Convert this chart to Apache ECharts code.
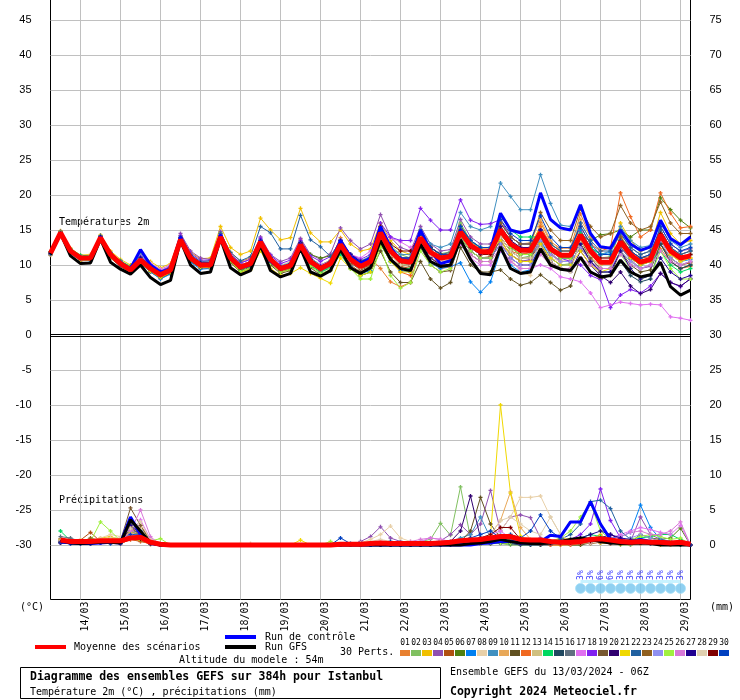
<!DOCTYPE html>
<html><head><meta charset="utf-8">
<script src="https://cdn.jsdelivr.net/npm/echarts@6/dist/echarts.min.js"></script>
<style>html,body{margin:0;padding:0;background:#fff}#c{width:740px;height:700px}</style>
</head><body><div id="c"></div>
<script>
// ---------- data ----------
const HOURS = [0,6,12,18,24,30,36,42,48,54,60,66,72,78,84,90,96,102,108,114,120,126,132,138,144,150,156,162,168,174,180,186,192,198,204,210,216,222,228,234,240,246,252,258,264,270,276,282,288,294,300,306,312,318,324,330,336,342,348,354,360,366,372,378,384];
const DATE_LABELS = ['14/03','15/03','16/03','17/03','18/03','19/03','20/03','21/03','22/03','23/03','24/03','25/03','26/03','27/03','28/03','29/03'];
const PERT_NAMES = ['01','02','03','04','05','06','07','08','09','10','11','12','13','14','15','16','17','18','19','20','21','22','23','24','25','26','27','28','29','30'];
const PERT_COLORS = ['#e88030','#80c060','#f0c000','#9050b0','#b05010','#508010','#0080f0','#e8d0a8','#4090c0','#e8a858','#605020','#f06820','#d0c080','#00d860','#204860','#607080','#e070f0','#8020f0','#785830','#300070','#f0d800','#2060a0','#906020','#9090f0','#a0f040','#d878d8','#200090','#e0d0b0','#800000','#0040c0'];

// Temperature 2m (°C)
const tMean = [11.7, 14.6,12.0,11.0,11.0, 13.9,11.5,10.2,9.3, 10.7,9.5,8.6,9.3, 13.6,11.0,10.0,10.0, 14.0,11.0,9.7,10.2, 13.3,10.8,9.5,9.9, 12.9,10.5,9.5,10.2, 12.9,10.8,9.8,10.5, 14.6,12.0,10.6,10.4, 13.9,11.8,11.0,11.2, 14.7,12.8,11.9,11.9, 15.0,13.0,12.1,12.1, 14.6,12.3,11.4,11.4, 14.3,12.0,10.4,10.4, 13.3,11.5,10.4,10.8, 14.3,12.0,11.0,11.3];
const tCtrl = [11.6, 14.6,12.0,11.0,11.0, 14.0,11.5,10.0,9.5, 12.2,10.0,9.0,9.4, 14.0,11.0,10.0,10.0, 14.3,11.0,9.6,10.0, 13.5,10.5,9.5,10.0, 13.0,10.5,9.6,10.3, 13.5,11.2,10.2,11.0, 15.5,12.5,10.7,10.6, 15.0,12.0,10.2,10.6, 15.0,12.8,11.7,12.2, 17.4,15.0,14.6,15.0, 20.3,16.5,15.3,15.0, 18.6,14.5,12.6,12.4, 15.0,13.0,12.1,12.6, 16.4,13.8,12.9,14.0];
const tGfs = [11.5, 14.5,11.3,10.2,10.3, 13.7,10.4,9.4,8.7, 10.0,8.2,7.2,7.8, 13.5,10.0,8.8,9.0, 13.8,9.6,8.6,9.2, 12.8,9.2,8.3,8.8, 12.4,9.0,8.4,9.2, 12.2,9.6,8.8,9.6, 13.5,10.8,9.5,9.2, 13.0,10.5,9.8,10.0, 13.6,10.8,8.8,8.6, 12.6,9.5,8.8,9.0, 12.3,10.0,9.4,9.2, 11.1,9.0,8.3,8.5, 10.7,9.0,8.3,8.6, 10.4,6.9,5.7,6.4];
const t01 = [11.5, 14.8,12.3,11.3,11.3, 13.6,11.5,10.2,9.3, 11.2,9.7,8.8,9.5, 13.1,10.7,9.7,9.7, 14.5,11.8,10.5,11.0, 12.3,10.3,9.0,9.4, 13.7,11.0,10.0,10.7, 13.9,11.3,10.3,11.0, 9.5,7.6,6.9,7.5, 12.9,10.3,9.5,9.7, 15.7,13.3,12.4,12.4, 13.0,11.5,10.6,10.6, 16.1,13.3,12.4,12.4, 17.3,14.0,12.4,12.4, 14.3,11.5,10.4,10.8, 12.3,10.5,9.5,9.8];
const t02 = [11.8, 14.4,11.8,10.8,10.9, 14.2,11.8,10.5,9.6, 10.9,9.8,8.9,9.6, 13.9,11.3,10.4,10.5, 14.6,11.6,10.1,10.4, 13.0,10.6,9.3,9.6, 12.4,10.0,9.0,9.8, 13.4,11.5,10.6,11.2, 15.5,12.8,11.5,11.0, 14.8,12.5,11.6,11.9, 16.0,13.5,12.2,12.0, 14.0,12.0,11.0,11.3, 13.2,11.0,10.0,10.2, 15.0,12.5,11.0,11.2, 12.0,10.5,9.5,9.9, 13.0,11.0,10.0,10.5];
const t03 = [11.9, 14.9,12.4,11.4,11.5, 14.3,12.0,10.8,10.0, 11.8,10.5,9.6,10.2, 14.2,11.8,10.9,11.0, 15.5,12.5,11.5,12.0, 16.7,15.0,13.6,13.9, 18.1,14.6,13.3,13.3, 15.0,13.0,12.0,12.3, 16.0,13.5,12.0,11.5, 15.0,12.5,11.5,11.6, 15.5,13.0,12.0,12.0, 16.5,14.0,13.0,13.0, 15.5,12.5,11.2,11.0, 13.0,11.0,10.0,10.2, 16.0,13.5,12.0,12.5, 17.5,14.5,13.0,13.5];
const t04 = [11.6, 14.5,12.1,11.2,11.1, 13.8,11.4,10.3,9.5, 11.0,9.9,9.2,9.8, 14.5,12.0,11.0,10.8, 14.8,11.5,10.3,10.8, 14.0,11.5,10.5,11.0, 13.8,11.5,10.8,11.6, 15.3,13.5,12.3,13.0, 17.2,14.0,12.5,12.0, 15.5,13.0,12.0,12.2, 16.5,14.0,13.0,13.0, 13.5,11.5,10.5,10.8, 13.8,11.8,10.5,10.5, 14.8,12.5,11.0,11.0, 12.5,10.8,9.5,9.8, 15.5,13.0,12.0,12.3];
const t05 = [11.4, 14.3,11.7,10.6,10.7, 13.5,11.0,9.8,8.9, 10.3,9.0,8.1,8.8, 13.2,10.5,9.6,9.5, 13.6,10.5,9.2,9.7, 12.8,10.2,9.0,9.4, 12.5,10.0,9.0,9.6, 12.0,10.0,9.0,9.8, 13.5,11.0,9.8,9.5, 13.0,11.0,10.2,10.5, 14.0,12.0,11.0,11.2, 15.5,13.5,12.5,12.5, 14.0,11.5,10.5,10.5, 12.5,10.5,9.5,9.5, 14.0,12.0,11.0,11.2, 13.0,11.0,10.0,10.3];
const t06 = [11.7, 14.7,12.0,11.1,11.0, 14.0,11.6,10.3,9.4, 10.4,9.3,8.5,9.2, 13.3,10.8,9.8,9.9, 13.5,10.7,9.5,10.0, 13.0,10.5,9.3,9.8, 13.2,11.5,11.0,11.3, 12.5,10.5,9.5,10.0, 14.0,11.5,10.2,10.0, 14.5,12.5,11.5,11.5, 13.8,12.0,11.0,11.0, 14.5,12.5,11.5,11.8, 15.0,13.0,12.0,12.0, 14.3,13.5,14.3,14.5, 15.0,14.0,15.0,15.0, 19.6,17.9,16.4,15.3];
const t07 = [11.5, 14.2,11.6,10.7,10.6, 13.6,11.2,9.9,9.0, 10.2,9.0,8.0,8.7, 13.0,10.4,9.4,9.5, 13.8,10.8,9.5,10.0, 13.5,11.0,9.8,10.2, 12.7,10.3,9.2,9.8, 12.0,9.8,8.8,9.2, 13.0,10.5,9.2,9.0, 12.5,10.3,9.5,9.8, 10.3,7.6,6.1,7.6, 12.0,10.0,9.0,9.3, 13.5,11.0,10.0,10.0, 15.0,12.5,11.5,11.8, 14.5,12.5,11.5,12.0, 14.0,11.5,10.5,10.8];
const t08 = [11.6, 14.6,12.2,11.3,11.4, 14.1,11.7,10.5,9.7, 11.5,10.3,9.4,10.0, 13.8,11.2,10.2,10.2, 13.9,11.0,9.8,10.3, 13.2,11.0,10.0,10.5, 12.0,10.0,9.0,9.5, 13.0,11.0,10.0,10.5, 14.5,12.0,10.5,10.0, 13.5,11.5,10.5,10.5, 13.5,11.5,10.5,10.5, 14.0,11.0,9.0,8.5, 13.0,11.0,10.5,10.8, 14.0,12.0,11.0,11.0, 13.0,11.5,10.5,11.0, 15.0,12.5,11.5,12.0];
const t09 = [11.8, 14.7,12.1,11.0,11.1, 13.9,11.4,10.0,9.2, 10.8,9.6,8.7,9.4, 13.5,11.0,10.1,10.2, 14.2,11.3,10.0,10.4, 13.6,11.2,9.9,10.3, 13.3,11.0,10.0,10.6, 13.5,11.5,10.5,11.3, 15.0,12.5,11.5,11.5, 15.0,13.0,12.5,13.0, 17.5,15.5,15.0,15.5, 21.7,19.8,17.9,17.9, 22.9,18.8,15.7,15.5, 14.0,12.5,11.5,12.0, 15.5,13.5,12.5,12.8, 16.0,13.5,12.5,13.0];
const t10 = [11.7, 14.5,11.9,10.9,11.0, 13.7,11.3,10.1,9.2, 10.6,9.4,8.6,9.3, 13.7,11.2,10.2,10.1, 14.3,11.4,10.0,10.5, 13.4,11.0,9.6,10.0, 12.6,10.2,9.4,10.0, 12.5,10.5,9.5,10.0, 14.0,11.5,10.5,10.5, 14.0,12.0,11.5,11.8, 15.0,13.0,12.0,12.0, 16.0,14.0,13.0,13.2, 16.5,13.5,12.0,12.0, 16.5,14.0,12.5,12.5, 14.0,12.5,11.5,12.0, 13.5,11.5,10.5,11.0];
const t11 = [11.6, 14.4,11.8,10.8,10.8, 13.6,11.1,9.8,8.9, 10.2,9.1,8.2,8.8, 13.2,10.6,9.6,9.7, 13.4,10.3,9.0,9.5, 12.6,10.0,8.8,9.2, 12.0,9.6,8.6,9.2, 12.0,9.5,8.5,9.0, 12.0,9.0,7.5,7.5, 10.5,8.0,6.7,7.5, 12.5,10.0,9.0,9.0, 9.3,8.0,7.1,7.5, 8.6,7.5,6.4,7.0, 11.0,9.0,8.0,8.5, 12.0,10.0,9.0,9.3, 13.0,10.5,9.5,10.0];
const t12 = [11.8, 14.8,12.2,11.2,11.2, 14.1,11.7,10.4,9.5, 10.9,9.7,8.8,9.5, 13.8,11.1,10.1,10.1, 14.1,11.2,9.9,10.4, 13.1,10.6,9.4,9.8, 12.8,10.4,9.5,10.1, 12.8,10.5,9.5,10.0, 13.5,11.0,9.0,8.5, 13.5,11.5,10.5,10.8, 14.5,12.5,11.5,11.5, 14.0,12.0,11.5,11.8, 15.5,13.0,12.0,12.0, 15.5,13.0,12.0,12.5, 20.3,16.9,14.0,15.0, 20.3,17.4,15.3,15.5];
const t13 = [11.7, 14.6,12.0,11.0,11.0, 13.8,11.5,10.3,9.4, 11.0,9.8,8.9,9.6, 13.6,11.0,10.0,10.0, 13.7,10.9,9.6,10.1, 13.2,10.6,9.4,9.8, 13.0,10.8,9.8,10.4, 13.2,11.0,10.0,10.5, 14.0,11.5,10.5,10.5, 13.0,11.0,10.0,10.0, 14.0,12.0,11.0,11.0, 15.0,12.5,11.5,11.5, 14.5,12.0,11.0,11.0, 13.0,11.0,10.0,10.2, 13.5,11.5,10.5,10.8, 14.5,12.0,11.0,11.5];
const t14 = [11.9, 14.7,12.3,11.4,11.3, 13.9,11.7,10.6,9.8, 11.4,10.0,9.0,9.5, 13.5,10.9,9.9,9.9, 13.8,10.6,9.3,9.8, 12.9,10.4,9.2,9.6, 12.2,9.9,9.0,9.6, 11.5,9.5,8.5,9.0, 13.0,10.5,9.5,9.5, 14.0,12.0,11.0,11.0, 15.5,13.5,12.5,12.5, 17.0,15.0,14.0,14.0, 14.0,12.0,11.0,11.0, 14.5,12.5,11.5,11.5, 13.0,11.0,10.0,10.5, 12.0,10.0,9.0,9.5];
const t15 = [11.6, 14.5,11.9,10.9,10.9, 13.8,11.4,10.1,9.3, 10.7,9.5,8.6,9.3, 13.7,11.2,10.2,10.3, 14.0,11.2,9.9,10.3, 13.3,10.8,9.6,10.0, 13.0,10.8,9.8,10.4, 13.5,11.5,10.5,11.0, 15.0,12.5,11.0,11.0, 14.5,12.5,11.5,11.5, 15.0,13.0,12.0,12.0, 14.5,12.5,11.5,11.5, 14.0,12.0,11.0,11.0, 13.0,10.5,9.0,9.0, 10.5,8.5,7.6,8.0, 13.0,10.5,9.5,10.0];
const t16 = [11.5, 14.5,12.0,11.0,10.9, 13.9,11.4,10.1,9.2, 10.5,9.3,8.5,9.2, 13.4,10.9,9.9,9.9, 13.9,10.9,9.6,10.1, 13.5,11.0,9.7,10.1, 13.0,10.6,9.6,10.2, 13.0,11.0,10.0,10.5, 15.0,12.5,11.0,11.0, 14.0,12.0,11.0,11.3, 14.5,12.5,11.5,11.5, 13.5,11.5,10.5,10.5, 15.0,12.5,11.5,11.5, 13.5,11.5,10.5,10.5, 12.5,11.0,10.0,10.5, 14.0,12.0,11.0,11.5];
const t17 = [11.7, 14.6,12.1,11.1,11.2, 14.0,11.6,10.4,9.5, 11.3,10.2,9.4,10.0, 13.9,11.5,10.5,10.4, 14.2,11.3,10.0,10.5, 13.0,10.7,9.6,10.0, 12.5,10.6,10.0,10.5, 13.5,11.5,11.0,12.0, 15.0,13.9,13.3,12.5, 14.0,12.0,11.0,11.0, 13.0,11.0,10.0,10.0, 12.0,10.5,9.5,9.5, 10.0,9.5,8.3,8.0, 7.6,6.0,3.9,4.3, 4.7,4.5,4.3,4.4, 4.3,2.6,2.4,2.1];
const t18 = [11.8, 14.6,12.1,11.1,11.1, 14.0,11.7,10.5,9.6, 11.2,10.0,9.1,9.8, 14.2,11.7,10.7,10.7, 14.4,11.5,10.3,10.8, 13.8,11.4,10.2,10.7, 13.5,11.3,10.5,11.2, 13.5,11.5,10.8,11.5, 16.0,14.0,13.5,13.5, 18.1,16.4,15.0,15.0, 19.3,16.4,15.8,15.9, 16.5,14.0,13.0,13.0, 15.0,12.0,11.0,10.5, 10.0,8.5,7.9,3.9, 5.7,6.5,6.0,7.0, 8.8,7.5,6.9,8.1];
const t19 = [11.6, 14.4,11.9,10.9,10.9, 13.8,11.3,10.0,9.1, 10.5,9.3,8.4,9.1, 13.4,10.8,9.8,9.8, 13.8,10.7,9.4,9.9, 13.0,10.4,9.2,9.6, 12.6,10.2,9.2,9.9, 12.5,10.3,9.3,9.8, 13.5,11.0,9.5,9.0, 12.5,10.0,9.0,9.2, 13.5,11.5,10.5,10.5, 14.0,12.0,11.0,11.0, 13.0,10.5,9.5,9.5, 13.5,11.0,9.5,9.5, 14.0,12.0,11.0,11.5, 15.0,12.5,11.5,12.0];
const t20 = [11.7, 14.6,12.0,11.0,11.1, 14.0,11.5,10.2,9.3, 10.8,9.6,8.7,9.4, 13.8,11.3,10.3,10.3, 14.1,11.2,9.9,10.4, 13.4,11.0,9.7,10.1, 13.1,10.8,9.8,10.4, 13.0,11.0,10.0,10.5, 14.5,12.0,10.5,10.0, 13.5,11.0,10.0,10.0, 14.0,12.0,11.0,11.0, 13.0,11.0,10.0,10.0, 12.5,10.5,9.5,9.0, 12.0,10.0,8.5,7.5, 9.0,7.0,5.9,6.5, 8.8,7.5,7.0,8.0];
const t21 = [11.5, 14.3,11.7,10.7,10.7, 13.5,11.1,9.9,9.0, 10.3,9.1,8.2,8.9, 13.4,10.8,9.7,9.6, 13.5,10.5,9.0,9.3, 12.0,9.5,8.5,8.8, 9.6,8.8,8.1,7.4, 11.0,9.5,8.5,9.0, 13.0,10.5,9.0,9.0, 14.0,12.0,11.0,11.0, 15.0,13.0,12.0,12.0, 13.5,11.5,10.5,10.5, 13.0,11.0,10.0,10.0, 12.0,10.0,9.0,9.5, 13.0,11.0,10.0,10.5, 14.0,11.5,10.5,11.0];
const t22 = [11.8, 14.8,12.2,11.2,11.2, 14.2,11.8,10.5,9.7, 11.1,9.9,9.0,9.7, 14.0,11.5,10.5,10.6, 14.5,11.8,10.6,11.2, 15.5,14.6,12.3,12.3, 17.1,13.6,12.6,11.2, 13.5,11.5,10.5,11.0, 15.0,12.5,11.0,10.8, 14.5,12.5,11.5,11.8, 15.5,13.5,12.5,12.5, 16.0,14.0,13.0,13.0, 15.0,13.0,12.0,12.0, 16.0,13.5,12.0,12.0, 14.5,12.5,11.5,12.0, 15.0,12.5,11.5,12.0];
const t23 = [11.6, 14.5,12.0,11.0,11.0, 13.7,11.3,10.0,9.2, 10.6,9.4,8.5,9.2, 13.5,10.9,9.9,9.9, 13.9,11.0,9.6,10.1, 13.2,10.7,9.5,9.9, 12.8,10.4,9.4,10.0, 12.5,10.5,9.5,10.0, 14.0,11.5,10.0,9.8, 13.5,11.5,10.5,10.5, 14.5,12.5,11.5,11.5, 16.0,14.0,13.0,13.0, 17.5,15.0,13.5,13.5, 18.0,15.5,14.0,14.5, 18.5,16.0,15.0,15.5, 19.0,16.0,14.5,14.5];
const t24 = [11.7, 14.6,12.0,11.0,11.0, 13.9,11.6,10.3,9.4, 10.8,9.6,8.7,9.4, 13.6,11.0,10.0,10.0, 14.0,11.1,9.8,10.3, 13.3,10.8,9.5,9.9, 12.9,10.5,9.5,10.2, 13.0,11.0,10.0,10.5, 14.5,12.0,10.8,10.5, 13.5,11.5,10.5,10.5, 14.0,12.0,11.0,11.0, 13.0,11.0,10.0,10.0, 13.5,11.5,10.5,10.5, 12.5,10.5,9.5,9.5, 12.0,10.5,9.5,10.0, 13.5,11.0,10.0,10.5];
const t25 = [11.8, 14.7,12.1,11.1,11.0, 13.9,11.5,10.2,9.3, 10.4,9.3,8.4,9.1, 13.4,10.8,9.8,9.8, 13.6,10.5,9.1,9.5, 12.8,10.2,9.0,9.3, 12.3,9.8,8.8,9.3, 12.0,9.5,8.0,8.0, 12.5,8.5,6.7,7.5, 12.0,10.0,9.0,9.5, 14.0,12.0,11.0,11.0, 14.5,12.5,11.5,11.5, 14.0,12.0,11.0,11.0, 13.5,11.5,10.5,10.5, 11.5,9.5,8.0,8.5, 12.0,9.5,8.0,8.0];
const t26 = [11.6, 14.5,11.9,10.9,11.0, 13.8,11.4,10.1,9.3, 10.9,9.7,8.8,9.5, 13.7,11.2,10.2,10.2, 14.2,11.3,10.0,10.5, 13.4,10.9,9.6,10.0, 12.7,10.4,9.4,10.0, 13.0,11.0,10.0,10.5, 14.5,12.0,11.0,11.0, 13.5,11.5,10.5,10.5, 13.5,11.5,10.5,10.5, 12.5,10.5,9.5,9.5, 11.5,10.0,9.5,9.5, 11.0,10.0,9.5,9.5, 11.5,10.0,9.5,10.0, 12.0,10.5,10.0,10.5];
const t27 = [11.7, 14.6,12.1,11.1,11.1, 14.0,11.6,10.3,9.5, 11.0,9.8,9.0,9.6, 13.9,11.3,10.3,10.3, 14.2,11.2,9.9,10.4, 13.5,11.0,9.7,10.2, 13.2,10.8,9.8,10.5, 13.5,11.5,10.5,11.0, 15.0,12.5,11.0,11.0, 14.5,12.0,11.0,11.0, 15.0,13.0,12.0,12.0, 15.5,13.5,12.5,12.5, 15.0,12.5,11.5,11.5, 13.0,10.5,9.0,9.0, 12.0,9.5,8.0,8.5, 11.0,9.0,8.0,8.5];
const t28 = [11.6, 14.5,12.0,11.0,11.0, 13.8,11.4,10.2,9.4, 10.7,9.5,8.7,9.4, 13.6,11.0,10.0,10.0, 13.9,11.0,9.7,10.2, 13.3,10.8,9.5,9.9, 12.9,10.5,9.5,10.2, 12.8,10.6,9.6,10.2, 14.0,11.5,10.0,10.0, 13.5,11.5,10.5,10.8, 14.5,12.5,11.5,11.5, 14.0,12.0,11.0,11.0, 12.5,10.5,9.5,9.0, 13.5,11.5,10.5,10.5, 13.0,11.5,10.5,11.0, 14.0,12.0,11.0,11.5];
const t29 = [11.7, 14.6,12.0,11.0,11.0, 13.9,11.5,10.2,9.3, 10.6,9.4,8.5,9.2, 13.5,10.9,9.9,9.9, 13.9,10.9,9.6,10.1, 13.2,10.7,9.4,9.8, 12.8,10.4,9.4,10.1, 13.0,11.0,10.0,10.8, 15.5,13.0,12.0,12.0, 14.5,12.5,11.5,11.5, 14.5,12.5,11.5,11.5, 15.0,13.0,12.0,12.0, 14.5,12.5,11.5,11.5, 14.0,12.0,11.0,11.0, 13.5,11.5,10.5,11.0, 14.5,12.0,11.0,11.5];
const t30 = [11.6, 14.5,11.9,10.9,10.9, 13.8,11.4,10.1,9.3, 10.6,9.5,8.6,9.3, 13.6,11.0,10.0,10.0, 14.0,11.0,9.7,10.2, 13.3,10.8,9.5,9.9, 12.9,10.5,9.5,10.2, 13.2,11.0,10.0,10.6, 15.0,12.5,11.0,11.0, 14.5,12.5,11.5,11.5, 15.5,13.5,12.5,12.5, 16.5,14.5,13.5,13.5, 17.0,14.0,12.5,12.5, 15.5,13.0,11.5,11.5, 13.5,12.0,11.0,11.5, 15.5,13.0,12.0,12.5];

// Precipitation (mm per 6h)
const pMean = [null, 0.7,0.5,0.5,0.5,0.6,0.6,0.6,1.0,1.1,0.4,0.1, 0,0,0,0,0,0,0,0,0,0,0,0,0,0,0,0,0, 0.1,0.1,0.1,0.2, 0.3,0.2,0.2,0.2, 0.2,0.2,0.3,0.4, 0.6,0.7,0.8,1.0, 1.2,1.2,0.8,0.7, 0.7,0.5,0.4,0.4, 0.5,0.8,0.9,0.7, 0.5,0.4,0.5,0.4, 0.4,0.3,0.4,0.1];
const pCtrl = [null, 0.5,0.3,0.2,0.2,0.3,0.4,0.3,4.0,1.5,0.2,0, 0,0,0,0,0,0,0,0,0,0,0,0,0,0,0,0,0, 0,0,0,0, 0,0,0,0, 0,0,0,0, 0,0,0.2,0.3, 0.5,0.5,0.3,0.3, 0.5,1.4,1.2,3.3, 3.3,6.2,3.0,0.8, 0.3,0.5,0.8,0.5, 0.3,0.3,0.2,0];
const pGfs = [null, 0.6,0.3,0.2,0.3,0.4,0.4,0.3,3.6,2.0,0.3,0, 0,0,0,0,0,0,0,0,0,0,0,0,0,0,0,0,0, 0,0,0,0, 0,0,0,0, 0,0,0,0, 0,0.2,0.3,0.5, 0.8,0.5,0.3,0.2, 0.2,0.3,0.5,0.8, 1.0,0.8,0.5,0.3, 0.2,0.2,0.3,0.2, 0,0,0,0];
const p01 = [null, 0.5,0.3,0.3,0.2,0.4,0.5,0.3,1.0,1.5,0.3,0, 0,0,0,0,0,0,0,0,0,0,0,0,0,0,0,0,0, 0,0,0,0, 0.3,0.2,0,0, 0,0.2,0.5,0.3, 0.5,0.8,1.0,0.5, 0.3,0.5,0.2,0, 0,0.3,0.5,0.2, 0.2,0.5,1.0,0.5, 0.2,0,0.3,0.5, 0.3,0,0,0];
const p02 = [null, 0.8,0.5,0.4,0.3,0.5,0.8,0.4,1.5,1.0,0.2,0, 0,0,0,0,0,0,0,0,0,0,0,0,0,0,0,0,0, 0,0,0,0, 0,0.2,0.5,0.3, 0.5,0.8,3.1,1.4, 8.3,1.0,0.3,0.2, 0.2,0,0,0, 0.3,0.2,0,0, 0,0.5,0.8,0.3, 0,0,0.2,0.4, 0.5,0.3,0.2,0];
const p03 = [null, 0.6,0.4,0.5,0.6,1.0,1.2,0.8,2.0,1.8,0.5,0, 0,0,0,0,0,0,0,0,0,0,0,0,0,0,0,0,0, 0,0,0,0, 0,0,0,0, 0,0,0.2,0.2, 0.5,0.3,0.5,0.8, 1.0,0.8,0.5,0.3, 0.2,0,0,0.2, 0.5,0.8,1.5,0.5, 0.2,0.2,0.5,0.3, 0,0.2,0.5,0];
const p04 = [null, 0.4,0.3,0.2,0.3,0.3,0.4,0.3,2.5,1.2,0.3,0, 0,0,0,0,0,0,0,0,0,0,0,0,0,0,0,0,0, 0,0,0.5,1.2, 2.6,1.0,0.5,0.3, 0.2,0.4,0.6,1.5, 2.9,1.5,3.0,7.8, 2.0,4.0,4.3,3.9, 1.0,0.5,0.3,0.2, 0.2,0.3,0.5,0.3, 0.2,0.5,4.0,1.5, 0.8,0.5,0.5,0];
const p05 = [null, 0.9,0.6,0.7,1.8,0.5,0.3,0.2,0.8,0.5,0.2,0, 0,0,0,0,0,0,0,0,0,0,0,0,0,0,0,0,0, 0,0,0,0, 0,0,0,0, 0.2,0,0,0, 0.3,0.5,0.2,0.4, 0.6,0.3,0.2,0.1, 0,0,0.3,0.5, 0.4,0.3,0.6,0.4, 0.2,0.2,0.3,0.2, 0.2,0.3,0.2,0];
const p06 = [null, 0.5,0.4,0.3,0.3,0.6,0.7,0.5,1.2,0.8,0.1,0, 0,0,0,0,0,0,0,0,0,0,0,0,0,0,0,0,0, 0,0,0,0, 0.2,0,0,0, 0,0,0.3,0.2, 0.3,0.4,0.5,0.3, 0.4,0.5,0.3,0.2, 0,0.2,0.4,0.3, 0.5,0.8,0.6,0.3, 0.2,0.4,1.5,1.0, 0.8,1.0,2.4,0];
const p07 = [null, 0.3,0.2,0.2,0.2,0.3,0.2,0.3,1.8,2.0,0.4,0, 0,0,0,0,0,0,0,0,0,0,0,0,0,0,0,0,0, 0,0,0,0, 0,0,0.2,0.3, 0.2,0,0,0, 0.2,0.3,0.2,0.3, 0.5,0.5,0.3,0.2, 0.3,0.5,0.4,0.3, 0.3,0.5,0.8,1.0, 1.2,1.8,5.7,2.5, 0.8,0.5,0.3,0];
const p08 = [null, 0.6,0.5,0.8,0.6,1.0,1.5,1.2,2.2,2.5,0.6,0, 0,0,0,0,0,0,0,0.2,0.2,0,0,0,0,0,0,0,0, 0,0,0.3,0.8, 1.5,2.7,1.0,0.5, 0.3,0.2,0.5,0.4, 0.5,0.3,0.2,0.5, 2.0,4.0,6.8,6.8, 7.0,4.0,1.5,0.5, 0.3,0.2,0.4,0.3, 0.2,0.2,0.4,0.3, 0.3,0.2,0.3,0];
const p09 = [null, 0.7,0.3,0.3,0.2,0.4,0.6,0.4,1.5,1.4,0.3,0, 0,0,0,0,0,0,0,0,0,0,0,0,0,0,0,0,0, 0,0,0,0, 0,0,0,0, 0,0,0.2,0.5, 1.0,1.5,4.0,1.0, 0.3,0.2,0.2,0, 0,0,0.2,0.3, 0.5,0.5,0.3,0.2, 0.3,1.0,0.5,0.3, 0.2,0,0,0];
const p10 = [null, 0.5,0.6,0.5,0.4,0.7,0.8,0.6,1.6,2.8,0.8,0, 0,0,0,0,0,0,0,0,0,0,0,0,0,0,0,0,0, 0,0,0,0, 0,0,0.2,0.3, 0.2,0,0,0, 0.3,0.5,0.8,1.5, 3.5,7.6,2.5,0.8, 0.5,0.5,0.3,0.2, 0.2,0.3,0.5,0.3, 0.2,0.3,0.5,0.3, 0.2,0,0.3,0];
const p11 = [null, 0.4,0.4,0.3,0.2,0.5,0.4,0.3,3.0,1.6,0.2,0, 0,0,0,0,0,0,0,0,0,0,0,0,0,0,0,0,0, 0,0,0,0, 0,0,0,0, 0,0,0.3,0.2, 0.5,2.0,6.8,3.0, 1.0,0.5,0.3,0.2, 0.2,0.3,0.2,0, 0,0.3,0.5,0.2, 0.2,0.3,0.4,0.2, 0.3,0.5,0.3,0];
const p12 = [null, 0.6,0.3,0.3,0.2,0.3,0.3,0.2,0.8,0.6,0.1,0, 0,0,0,0,0,0,0,0,0,0,0,0,0,0,0,0,0, 0,0,0,0, 0,0,0,0, 0,0,0,0.2, 0.3,0.3,0.2,0.5, 0.5,0.3,0.2,0.3, 0.2,0,0,0, 0.2,0.5,0.3,0.2, 0.5,0.3,0.2,0.2, 0.3,0.2,0.2,0];
const p13 = [null, 0.8,0.4,0.4,0.4,0.8,1.0,0.9,2.0,1.5,0.4,0, 0,0,0,0,0,0,0,0,0,0,0,0,0,0,0,0,0, 0,0,0,0, 0.2,0.3,0.2,0, 0,0.2,0.3,0.5, 0.5,0.4,0.3,0.6, 1.0,1.5,1.0,0.5, 0.3,0.2,0.5,0.3, 0.5,0.8,0.6,0.5, 0.3,0.3,0.5,0.3, 0.2,0.2,0.2,0];
const p14 = [null, 2.0,0.6,0.4,0.3,0.5,0.4,0.3,1.2,1.0,0.2,0, 0,0,0,0,0,0,0,0,0,0,0,0,0,0,0,0,0, 0,0,0,0, 0,0,0,0, 0,0,0.2,0.3, 0.3,0.2,0.3,0.4, 0.3,0.2,0.3,0.2, 0.2,0.3,0.5,0.8, 1.0,1.5,1.2,0.8, 0.5,0.6,1.0,1.2, 1.5,1.5,0.8,0];
const p15 = [null, 0.5,0.4,0.3,0.3,0.4,0.3,0.3,1.4,1.1,0.3,0, 0,0,0,0,0,0,0,0,0,0,0,0,0,0,0,0,0, 0,0,0,0, 0,0,0,0, 0,0,0,0, 0.2,0.3,0.2,0.2, 0.3,0.2,0,0, 0,0.2,0.3,0.5, 0.8,1.0,0.8,0.5, 0.3,0.3,0.5,0.3, 0.2,0.2,0,0];
const p16 = [null, 1.2,1.0,0.5,0.4,0.6,0.5,0.4,1.0,0.8,0.2,0, 0,0,0,0,0,0,0,0,0,0,0,0,0,0,0,0,0, 0,0,0,0, 0,0,0,0, 0.2,0.2,0.3,0.2, 0.3,0.2,0.2,0.3, 0.5,0.3,0.2,0.2, 0.2,0.2,0.3,0.3, 0.5,0.5,0.5,0.3, 0.2,0.2,0.3,0.3, 0.2,0.2,0.2,0];
const p17 = [null, 0.4,0.3,0.3,0.2,0.5,0.4,0.5,1.5,3.6,0.8,0, 0,0,0,0,0,0,0,0,0,0,0,0,0,0,0,0,0, 0,0,0,0, 0.5,0.3,0.2,0.3, 0.5,1.0,0.8,0.5, 0.5,0.8,1.0,1.5, 2.0,1.0,0.5,0.3, 0.2,0.3,0.3,0.2, 0.3,0.5,0.8,1.0, 1.5,2.0,2.5,2.2, 1.8,1.5,2.8,0];
const p18 = [null, 0.5,0.4,0.3,0.3,0.4,0.5,0.3,2.0,1.3,0.2,0, 0,0,0,0,0,0,0,0,0,0,0,0,0,0,0,0,0, 0,0,0,0, 0,0,0,0, 0,0,0,0.2, 0.3,0.2,0.2,0.5, 0.3,0.5,0.2,0.2, 0.2,0.2,0.5,0.8, 1.5,3.0,8.0,3.5, 1.0,0.5,0.5,0.3, 0.3,0.2,0.2,0];
const p19 = [null, 0.6,0.4,0.5,0.4,0.7,0.9,0.6,5.3,2.8,0.5,0, 0,0,0,0,0,0,0,0,0,0,0,0,0,0,0,0,0, 0,0,0,0, 0,0,0,0, 0,0,0.2,0.2, 0.3,0.5,0.3,0.2, 0.5,0.6,0.4,0.3, 0.2,0.2,0.4,0.5, 0.5,0.4,0.6,0.4, 0.3,0.2,0.3,0.2, 0.2,0.2,0.3,0];
const p20 = [null, 0.3,0.2,0.2,0.2,0.4,0.3,0.3,1.2,0.9,0.2,0, 0,0,0,0,0,0,0,0,0,0,0,0,0,0,0,0,0, 0,0,0,0, 0,0,0,0, 0,0,0.2,0.5, 2.0,7.0,1.0,0.5, 0.3,0.2,0.2,0.3, 0.5,0.3,0.2,0.3, 0.5,0.8,1.0,1.5, 0.8,0.5,0.3,0.5, 0.3,0.2,0.2,0];
const p21 = [null, 0.7,0.5,0.6,0.5,0.8,1.0,0.9,1.8,1.5,0.3,0, 0,0,0,0,0,0,0,0,0,0,0,0,0,0.7,0,0,0, 0,0,0,0, 0,0,0,0, 0,0,0.2,0.3, 0.3,0.5,0.8,1.3, 20.0,7.4,1.3,0.5, 0.3,0.5,1.0,0.8, 0.5,0.5,0.3,0.3, 0.2,0.3,0.5,0.3, 0.2,0.2,0.2,0];
const p22 = [null, 0.5,0.3,0.3,0.2,0.4,0.5,0.4,3.2,1.8,0.4,0, 0,0,0,0,0,0,0,0,0,0,0,0,0,0,0,0,0, 0,0,0,0, 0,0,0,0, 0,0,0.3,0.2, 0.5,0.8,1.0,0.8, 0.5,0.3,0.2,0.2, 0.3,0.5,0.8,1.5, 3.0,6.2,6.4,5.2, 2.0,0.8,0.5,0.3, 0.2,0.3,0.2,0];
const p23 = [null, 0.6,0.4,0.4,1.0,0.6,0.5,0.3,2.5,1.4,0.3,0, 0,0,0,0,0,0,0,0,0,0,0,0,0,0,0,0,0, 0,0,0,0, 0,0,0,0, 0,0.2,0.2,0.3, 0.3,0.4,0.5,0.8, 1.0,0.8,0.5,0.3, 0.3,0.2,0.3,0.5, 0.3,0.2,0.4,0.3, 0.2,0.3,0.5,0.3, 0.2,0.2,0.2,0];
const p24 = [null, 0.4,0.3,0.3,0.3,0.5,0.6,0.4,1.4,1.2,0.3,0, 0,0,0,0,0,0,0,0,0,0,0,0,0,0,0,0,0, 0,0,0,0, 0,0,0,0.2, 0.3,0.2,0.2,0.3, 0.5,0.8,0.5,1.0, 1.5,1.2,0.8,0.5, 0.3,0.2,0.3,0.4, 0.5,0.8,0.6,0.5, 0.5,1.0,1.5,1.0, 0.5,0.3,0.3,0];
const p25 = [null, 0.5,0.4,0.4,0.5,3.3,2.0,0.6,1.0,0.7,0.6,0.9, 0,0,0,0,0,0,0,0,0,0,0,0,0,0,0,0,0.5, 0,0,0,0, 0,0,0,0, 0,0,0.2,0.2, 0.3,0.2,0.2,0.3, 0.3,0.2,0.3,0.5, 0.5,0.5,1.0,2.0, 4.0,6.0,2.0,0.8, 0.5,0.8,1.2,1.5, 1.2,0.8,1.0,0];
const p26 = [null, 0.6,0.4,0.4,0.3,0.5,0.6,0.5,2.0,5.0,1.2,0, 0,0,0,0,0,0,0,0,0,0,0,0,0,0,0,0,0, 0,0,0,0, 0.2,0.3,0.3,0.5, 0.8,1.0,0.8,0.5, 0.5,0.4,0.5,0.8, 1.0,0.6,0.5,0.3, 0.3,0.2,0.3,0.5, 0.5,0.3,0.5,0.8, 1.2,1.8,2.0,1.5, 1.5,2.0,3.3,0];
const p27 = [null, 0.3,0.3,0.2,0.2,0.3,0.3,0.2,2.8,1.5,0.3,0, 0,0,0,0,0,0,0,0,0,0,0,0,0,0,0,0,0, 0,0,0,0, 0,0,0,0, 0,0,0,0.2, 0.3,0.2,0.3,0.5, 0.8,0.5,0.3,0.3, 0.3,0.5,0.5,0.8, 1.0,1.5,2.0,1.5, 1.0,0.8,0.5,0.3, 0.3,0.2,0.2,0];
const p28 = [null, 0.6,0.5,0.5,0.5,0.9,1.0,1.0,2.4,3.3,0.7,0, 0,0,0,0,0,0,0,0,0.1,0,0,0,0,0,0,0,0, 0,0,0.2,0.5, 0.8,0.5,0.3,0.2, 0.2,0.3,0.5,0.5, 0.5,0.5,1.0,1.5, 3.5,4.0,3.0,2.0, 1.5,4.0,1.5,0.5, 0.3,0.3,0.5,0.3, 0.3,0.2,0.3,0.2, 0.2,0.2,0.2,0];
const p29 = [null, 0.4,0.3,0.3,0.3,0.4,0.4,0.3,1.0,0.8,0.2,0, 0,0,0,0,0,0,0,0,0,0,0,0,0,0,0,0,0, 0,0,0,0, 0,0,0,0, 0,0,0.2,0.3, 0.5,0.8,1.0,1.5, 2.5,2.5,0.8,0.3, 0.2,0.2,0.3,0.3, 0.3,0.5,0.5,0.3, 0.2,0.3,0.3,0.2, 0.2,0.2,0.2,0];
const p30 = [null, 0.4,0.2,0.2,0.2,0.3,0.2,0.2,1.5,1.6,0.3,0, 0,0,0,0,0,0,0,0,0,0,0,0,0,0,0,0,0, 1.0,0.2,0,0, 0.3,0.5,0.3,0.2, 0.2,0.2,0.3,0.3, 0.5,1.0,1.5,2.0, 1.0,1.5,1.0,2.0, 4.3,2.0,1.0,0.5, 0.5,0.8,0.5,0.3, 0.3,0.2,0.3,0.2, 0.2,0.2,0.2,0];

// Snow risk markers
const SNOW_HOURS = [318,324,330,336,342,348,354,360,366,372,378];
const SNOW_PCT = [3,3,6,6,3,3,3,3,3,3,3];

const TEMP_PERTS = [t01,t02,t03,t04,t05,t06,t07,t08,t09,t10,t11,t12,t13,t14,t15,t16,t17,t18,t19,t20,t21,t22,t23,t24,t25,t26,t27,t28,t29,t30];
const PREC_PERTS = [p01,p02,p03,p04,p05,p06,p07,p08,p09,p10,p11,p12,p13,p14,p15,p16,p17,p18,p19,p20,p21,p22,p23,p24,p25,p26,p27,p28,p29,p30];

// ---------- chart ----------
const MONO = '"DejaVu Sans Mono", "Liberation Mono", monospace';
const PLUS = 'path://M1,0H2V1H3V2H2V3H1V2H0V1H1Z';
const pts = vals => HOURS.map((h, i) => [h, vals[i]]);

const series = [];
function addLine(vals, yIdx, color, width, symbol, z) {
  series.push({
    type: 'line', xAxisIndex: 0, yAxisIndex: yIdx, data: pts(vals),
    symbol: symbol ? PLUS : 'none', symbolSize: 4, showSymbol: !!symbol,
    lineStyle: { color: color, width: width }, itemStyle: { color: color },
    silent: true, animation: false, z: z, emphasis: { disabled: true }
  });
}
TEMP_PERTS.forEach((v, k) => addLine(v, 0, PERT_COLORS[k], 1, true, 2));
PREC_PERTS.forEach((v, k) => addLine(v, 1, PERT_COLORS[k], 1, true, 2));
addLine(tCtrl, 0, '#0000ff', 3, false, 3);
addLine(pCtrl, 1, '#0000ff', 3, false, 3);
addLine(tGfs, 0, '#000000', 3, false, 3);
addLine(pGfs, 1, '#000000', 3, false, 3);
addLine(tMean, 0, '#ff0000', 5, false, 4);
addLine(pMean, 1, '#ff0000', 5, false, 4);

// double line at 0 °C
series.push({
  type: 'line', xAxisIndex: 0, yAxisIndex: 0, data: [], silent: true, animation: false,
  markLine: { silent: true, symbol: 'none', animation: false, label: { show: false },
    lineStyle: { color: '#000', width: 1, type: 'solid' },
    data: [{ yAxis: 0.071 }, { yAxis: -0.214 }] }
});
// snow markers
series.push({
  type: 'line', xAxisIndex: 0, yAxisIndex: 1, data: SNOW_HOURS.map(h => [h, -5.2]),
  symbol: 'none', lineStyle: { color: '#c8f2ff', width: 3 }, silent: true, animation: false, z: 2
});
series.push({
  type: 'scatter', xAxisIndex: 0, yAxisIndex: 1, data: SNOW_HOURS.map(h => [h, -6.2]),
  symbol: 'circle', symbolSize: 10, itemStyle: { color: '#74c4ee', borderColor: '#a8e2fa', borderWidth: 1 },
  silent: true, animation: false, z: 3
});
series.push({
  type: 'scatter', xAxisIndex: 0, yAxisIndex: 1, data: SNOW_HOURS.map((h, i) => [h, -4.3, SNOW_PCT[i]]),
  symbol: 'circle', symbolSize: 2, itemStyle: { color: 'rgba(255,255,255,0)' }, silent: true, animation: false, z: 5,
  label: { show: true, position: 'inside', rotate: 90, formatter: p => p.value[2] + '%',
    color: '#0000ff', fontSize: 8, fontFamily: MONO }
});

// graphics (legend, title)
const g = [];
const txt = (x, y, text, opt) => g.push({ type: 'text', x: x, y: y, silent: true,
  style: Object.assign({ text: text, font: '10px ' + MONO, fill: '#000', align: 'left', verticalAlign: 'middle' }, opt || {}) });
txt(59, 222, 'Températures 2m');
txt(59, 500, 'Précipitations');
txt(20, 607, '(°C)');
txt(710, 607, '(mm)');
g.push({ type: 'rect', shape: { x: 35, y: 645, width: 31, height: 4 }, style: { fill: '#ff0000' }, silent: true });
txt(74, 647, 'Moyenne des scénarios');
g.push({ type: 'rect', shape: { x: 225, y: 635, width: 31, height: 4 }, style: { fill: '#0000ff' }, silent: true });
txt(265, 637, 'Run de contrôle');
g.push({ type: 'rect', shape: { x: 225, y: 645, width: 31, height: 4 }, style: { fill: '#000000' }, silent: true });
txt(265, 647, 'Run GFS');
txt(179, 660, 'Altitude du modele : 54m');
txt(340, 652, '30 Perts.');
PERT_NAMES.forEach((n, k) => {
  g.push({ type: 'rect', shape: { x: 400 + 11 * k, y: 650, width: 10, height: 6 }, style: { fill: PERT_COLORS[k] }, silent: true });
  txt(400 + 11 * k + 5, 643, n, { font: '8px ' + MONO, align: 'center' });
});
g.push({ type: 'rect', shape: { x: 20.5, y: 667.5, width: 420, height: 31 }, style: { fill: 'none', stroke: '#000', lineWidth: 1 }, silent: true });
txt(30, 677, 'Diagramme des ensembles GEFS sur 384h pour Istanbul', { font: 'bold 11.5px ' + MONO });
txt(30, 692, 'Température 2m (°C) , précipitations (mm)');
txt(450, 672, 'Ensemble GEFS du 13/03/2024 - 06Z');
txt(450, 692, 'Copyright 2024 Meteociel.fr', { font: 'bold 11.5px ' + MONO });

const T = 'rgba(0,0,0,0)', G = '#c0c0c0';
const option = {
  animation: false,
  backgroundColor: '#fff',
  grid: [
    { left: 50.5, width: 640, top: -15, height: 630, containLabel: false, outerBoundsMode: 'none' },
    { left: 50.5, width: 640, top: -0.5, height: 600, containLabel: false, outerBoundsMode: 'none',
      show: true, borderColor: '#000', borderWidth: 1, backgroundColor: 'transparent' }
  ],
  xAxis: [
    { gridIndex: 0, type: 'value', min: 0, max: 384, show: false },
    { gridIndex: 1, type: 'value', min: 0, max: 384, interval: 6,
      axisLine: { show: false }, axisTick: { show: false },
      splitLine: { show: true, lineStyle: { color: [T, T, T, G], width: 1 } },
      axisLabel: { show: true, rotate: 90, margin: 2, verticalAlign: 'top', color: '#000', fontSize: 10, fontFamily: MONO,
        showMinLabel: true, showMaxLabel: true,
        formatter: v => ((v - 18) % 24 === 0 && v >= 18) ? DATE_LABELS[(v - 18) / 24] : '' } }
  ],
  yAxis: [
    { gridIndex: 0, type: 'value', position: 'left', min: -40, max: 50, interval: 5,
      axisLine: { show: false }, axisTick: { show: false },
      splitLine: { show: true, lineStyle: { width: 1, color: [T, T, G, G, G, G, G, G, T, G, G, G, G, G, G, G, G, G, T] } },
      axisLabel: { margin: 19, color: '#000', fontSize: 11, fontFamily: '"Liberation Sans", Arial, sans-serif',
        formatter: v => (v < -30 || v > 45) ? '' : String(v) } },
    { gridIndex: 0, type: 'value', position: 'right', min: -10, max: 80, interval: 5,
      axisLine: { show: false }, axisTick: { show: false }, splitLine: { show: false },
      axisLabel: { margin: 19, color: '#000', fontSize: 11, fontFamily: '"Liberation Sans", Arial, sans-serif',
        formatter: v => (v < 0 || v > 75) ? '' : String(v) } },
    { gridIndex: 1, type: 'value', min: 0, max: 1, show: false }
  ],
  series: series,
  graphic: { elements: g }
};
const chart = echarts.init(document.getElementById('c'), null, { renderer: 'canvas' });
chart.setOption(option);
</script>
</body></html>
